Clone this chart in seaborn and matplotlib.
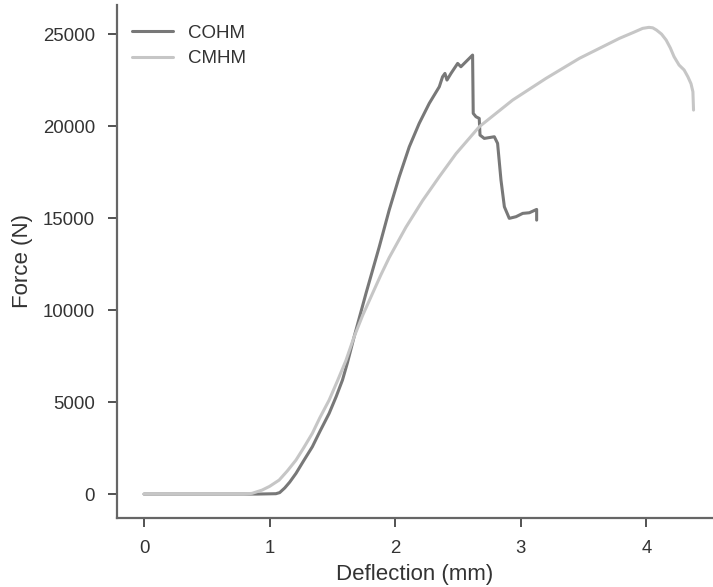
import numpy as np
import pandas as pd
import matplotlib
matplotlib.use("Agg")
import matplotlib.pyplot as plt
import seaborn as sns

# --- data ---
cohm_x = [0.0, 0.5, 0.9, 1.05, 1.08, 1.12, 1.16, 1.21, 1.27, 1.34, 1.40, 1.474, 1.53,
          1.58, 1.62, 1.673, 1.767, 1.873, 1.952, 2.032, 2.112, 2.191, 2.271, 2.351,
          2.377, 2.396, 2.412, 2.444, 2.497, 2.523, 2.616, 2.621, 2.643, 2.669,
          2.675, 2.709, 2.789, 2.815, 2.842, 2.869, 2.908, 2.962, 3.015, 3.068, 3.126, 3.126]
cohm_y = [0, 0, 0, 20, 80, 330, 650, 1125, 1800, 2570, 3400, 4386, 5300,
          6196, 7150, 8550, 10900, 13440, 15435, 17245, 18876, 20146, 21234, 22138,
          22680, 22862, 22500, 22862, 23405, 23225, 23860, 20690, 20507, 20416,
          19510, 19330, 19420, 19060, 17066, 15615, 14985, 15075, 15255, 15290, 15470, 14890]

cmhm_x = [0.0, 0.5, 0.8, 0.86, 0.94, 1.0, 1.076, 1.14, 1.21, 1.27, 1.34, 1.40, 1.474,
          1.54, 1.607, 1.673, 1.74, 1.819, 1.885, 1.952, 2.085, 2.218, 2.351, 2.484, 2.669,
          2.935, 3.20, 3.466, 3.785, 3.90, 3.97, 4.02, 4.05, 4.08, 4.12, 4.157, 4.19,
          4.22, 4.26, 4.30, 4.33, 4.355, 4.37, 4.375]
cmhm_y = [0, 0, 0, 40, 217, 420, 761, 1250, 1848, 2500, 3300, 4150, 5109,
          6150, 7250, 8550, 9700, 10900, 11900, 12850, 14500, 15950, 17250, 18500, 19963,
          21414, 22590, 23680, 24767, 25100, 25310, 25365, 25340, 25220, 25000, 24675, 24250,
          23770, 23315, 23050, 22680, 22300, 21866, 20870]

series = ["COHM", "CMHM"]
colors = ["#787878", "#c6c6c6"]

df = pd.concat([
    pd.DataFrame({"Deflection (mm)": cohm_x, "Force (N)": cohm_y, "Sample": "COHM"}),
    pd.DataFrame({"Deflection (mm)": cmhm_x, "Force (N)": cmhm_y, "Sample": "CMHM"}),
], ignore_index=True)

sns.set_theme(style="ticks")
plt.rcParams["font.family"] = ["Liberation Sans", "DejaVu Sans"]

fig = plt.figure(figsize=(7.13, 5.87), dpi=100)
ax = fig.add_axes([117 / 713, 1 - 518 / 587, 1 - 117 / 713, (518 - 5) / 587])

sns.lineplot(data=df, x="Deflection (mm)", y="Force (N)", hue="Sample",
             hue_order=series, palette=colors, sort=False, estimator=None,
             linewidth=2.2, ax=ax)
for ln in ax.get_lines():
    ln.set_solid_joinstyle("round")

ax.set_xlim(-0.215, 4.53)
ax.set_ylim(-1300, 26580)
ax.set_xticks([0, 1, 2, 3, 4])
ax.set_yticks([0, 5000, 10000, 15000, 20000, 25000])
ax.tick_params(labelsize=13.4, length=6.3, width=1.3, pad=9.6, color="#444444",
               labelcolor="#333333")
for s in ["left", "bottom"]:
    ax.spines[s].set_color("#666666")
    ax.spines[s].set_linewidth(1.6)
sns.despine(ax=ax)
ax.set_xlabel("Deflection (mm)", fontsize=16, color="#333333", labelpad=5)
ax.set_ylabel("Force (N)", fontsize=16, color="#333333", labelpad=7)

leg = ax.legend(loc="upper left", frameon=False, fontsize=13.5, handlelength=2.2,
                borderaxespad=0.0, labelspacing=0.44, handletextpad=0.8,
                bbox_to_anchor=(0.0126, 0.976))
for t in leg.get_texts():
    t.set_color("#333333")

fig.savefig("out.png", dpi=100)
